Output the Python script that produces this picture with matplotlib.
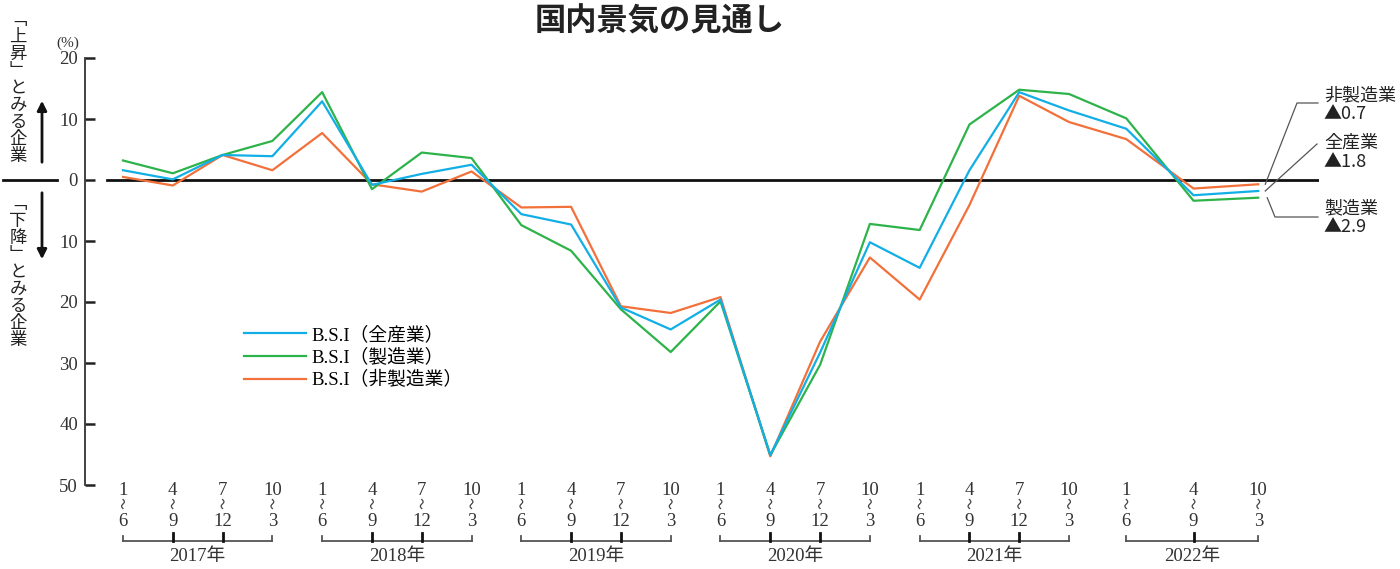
import matplotlib
matplotlib.use("Agg")
import numpy as np
import matplotlib.pyplot as plt
from matplotlib.lines import Line2D

# 国内景気の見通し (B.S.I)
years = ["2017", "2018", "2019", "2020", "2021", "2022"]
months_from = ["1", "4", "7", "10"] * 5 + ["1", "4", "10"]
months_to = ["6", "9", "12", "3"] * 5 + ["6", "9", "3"]
group_sizes = [4, 4, 4, 4, 4, 3]
x_pos = list(range(20)) + [20.15, 21.5, 22.8]

bsi_all = [1.6, 0.1, 4.1, 3.9, 12.9, -0.8, 1.0, 2.5, -5.6, -7.3, -20.9, -24.5,
           -19.6, -45.1, -28.3, -10.2, -14.4, 1.6, 14.4, 11.4, 8.4, -2.5, -1.8]
bsi_manuf = [3.2, 1.1, 4.1, 6.4, 14.4, -1.5, 4.5, 3.6, -7.4, -11.6, -21.2, -28.2,
             -19.9, -45.1, -30.3, -7.2, -8.2, 9.1, 14.8, 14.1, 10.1, -3.4, -2.9]
bsi_nonmanuf = [0.5, -0.9, 4.1, 1.6, 7.7, -0.7, -1.9, 1.4, -4.5, -4.4, -20.7, -21.8,
                -19.2, -45.3, -26.5, -12.7, -19.6, -4.1, 13.8, 9.5, 6.7, -1.4, -0.7]

y_ticks = [20, 10, 0, -10, -20, -30, -40, -50]

C_ALL = "#12aee6"
C_MANUF = "#2db34a"
C_NON = "#f2703a"

SERIF = ["Liberation Serif", "Noto Sans CJK JP", "DejaVu Sans"]
JP = ["Noto Sans CJK JP", "DejaVu Sans"]

W, H = 1400, 569
fig = plt.figure(figsize=(W / 100, H / 100), dpi=100)
ax = fig.add_axes([85 / W, 1 - 485 / H, (1319 - 85) / W, (485 - 58) / H])

ax.plot(x_pos, bsi_nonmanuf, color=C_NON, lw=1.6, label="B.S.I（非製造業）", zorder=3)
ax.plot(x_pos, bsi_manuf, color=C_MANUF, lw=1.6, label="B.S.I（製造業）", zorder=3)
ax.plot(x_pos, bsi_all, color=C_ALL, lw=1.6, label="B.S.I（全産業）", zorder=4)

ax.set_xlim(-0.763, 24.02)
ax.set_ylim(-50, 20)
ax.axhline(0, xmin=0.018, xmax=1, color="#111", lw=2, zorder=2)

ax.set_yticks(y_ticks)
ax.set_yticklabels([str(abs(v)) for v in y_ticks], family=SERIF, fontsize=13.5, color="#333")
ax.set_xticks([])
for s in ["top", "right", "bottom"]:
    ax.spines[s].set_visible(False)
ax.spines["left"].set_color("#333")
ax.spines["left"].set_linewidth(1.3)
ax.tick_params(axis="y", direction="in", length=7, width=1.8, color="#222", pad=5)

# legend
handles, labels = ax.get_legend_handles_labels()
ax.legend(handles[::-1], labels[::-1], loc="upper left",
          bbox_to_anchor=(244 / W, 1 - 326 / H), bbox_transform=fig.transFigure,
          frameon=False, handlelength=3.3, handletextpad=0.3, labelspacing=0.25,
          borderpad=0, borderaxespad=0, prop={"family": SERIF, "size": 13.5})

# overlay in pixel coords for annotations
ov = fig.add_axes([0, 0, 1, 1], zorder=5)
ov.set_xlim(0, W)
ov.set_ylim(H, 0)
ov.axis("off")


def to_px(x, y):
    dx, dy = ax.transData.transform((x, y))
    return dx, H - dy


ov.text(660, 22, "国内景気の見通し", family=JP, fontsize=22.5, fontweight="bold",
        ha="center", va="center", color="#222")
ov.text(68, 43, "(%)", family=SERIF, fontsize=11, ha="center", va="center", color="#333")

# vertical labels on the left
upper = "\n".join(["﹁", "上", "昇", "﹂", "と", "み", "る", "企", "業"])
lower = "\n".join(["﹁", "下", "降", "﹂", "と", "み", "る", "企", "業"])
ov.text(18, 88, upper, family=JP, fontsize=12.5, ha="center", va="center",
        linespacing=0.93, color="#222")
ov.text(18, 272, lower, family=JP, fontsize=12.5, ha="center", va="center",
        linespacing=0.93, color="#222")
ov.add_line(Line2D([3, 57], [180, 180], color="#111", lw=2))
ov.annotate("", xy=(42, 98), xytext=(42, 165),
            arrowprops=dict(arrowstyle="-|>", lw=2, color="#111", mutation_scale=14))
ov.annotate("", xy=(42, 262), xytext=(42, 190),
            arrowprops=dict(arrowstyle="-|>", lw=2, color="#111", mutation_scale=14))

# small vertical wave mark between month labels
wt = np.linspace(0, 1, 15)
wave_dx = 1.4 * np.sin(2 * np.pi * wt)
wave_dy = (wt - 0.5) * 9

# x-axis period labels and year brackets
i = 0
for yr, n in zip(years, group_sizes):
    xs = []
    for k in range(n):
        px, _ = to_px(x_pos[i + k], 0)
        xs.append(px)
        ov.text(px, 490, months_from[i + k], family=SERIF, fontsize=13.5,
                ha="center", va="center", color="#333")
        ov.add_line(Line2D(px + wave_dx, 504 + wave_dy, color="#444", lw=0.9))
        ov.text(px, 521, months_to[i + k], family=SERIF, fontsize=13.5,
                ha="center", va="center", color="#333")
    ov.add_line(Line2D([xs[0], xs[-1]], [541, 541], color="#555", lw=1.3))
    for px in (xs[0], xs[-1]):
        ov.add_line(Line2D([px, px], [536, 541], color="#555", lw=1.3))
    for px in xs[1:-1]:
        ov.add_line(Line2D([px, px], [533, 541], color="#111", lw=2))
    ov.text((xs[0] + xs[-1]) / 2, 557, yr + "年", family=SERIF, fontsize=13.5,
            ha="center", va="center", color="#333")
    i += n

# right-side callouts for latest values
last_x = x_pos[-1]
callouts = [
    ("非製造業", bsi_nonmanuf[-1], 0.08, [(1297, 103), (1318, 103)], 95),
    ("全産業", bsi_all[-1], 0.08, [(1317, 144)], 143),
    ("製造業", bsi_manuf[-1], 0.12, [(1275, 217), (1318, 217)], 208),
]
for name, val, dx, pts, ty in callouts:
    sx, sy = to_px(last_x + dx, val)
    lx = [sx + 3] + [p[0] for p in pts]
    ly = [sy] + [p[1] for p in pts]
    ov.add_line(Line2D(lx, ly, color="#555", lw=0.9))
    ov.text(1324, ty, name, family=JP, fontsize=13, ha="left", va="center", color="#222")
    ov.text(1323, ty + 19, "▲" + f"{abs(val):.1f}", family=JP, fontsize=13,
            ha="left", va="center", color="#222")

fig.savefig("out.png", dpi=100)
